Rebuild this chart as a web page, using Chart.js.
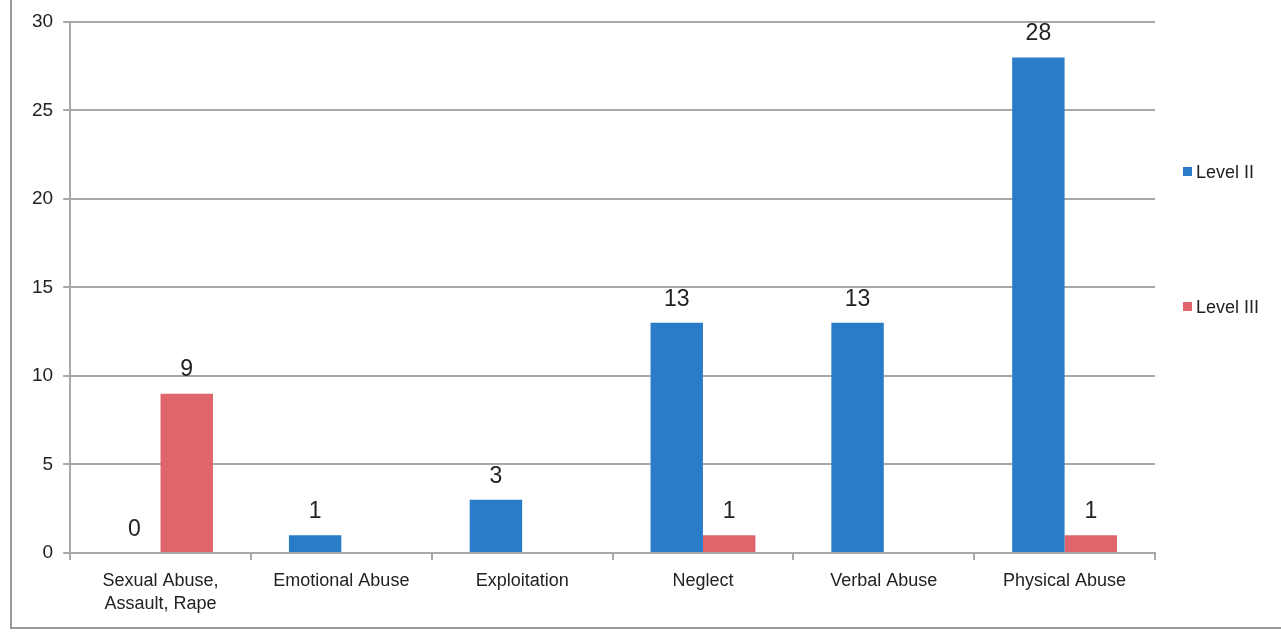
<!DOCTYPE html>
<html>
<head>
<meta charset="utf-8">
<script src="https://cdn.jsdelivr.net/npm/chart.js@4/dist/chart.umd.min.js"></script>
<style>
  html, body { margin: 0; padding: 0; background: #fff; }
  #wrap { position: relative; width: 1281px; height: 635px; overflow: hidden; }
  #frame { position: absolute; left: 10px; top: -4px; width: 1280px; height: 631px;
           border-left: 2px solid #9a9a9a; border-bottom: 2px solid #9a9a9a; }
  canvas { position: absolute; left: 0; top: 0; }
  .legend { position: absolute; font: 18px "Liberation Sans", Arial, sans-serif; color: #222; }
  .legend span { display: inline-block; width: 9px; height: 9px; margin-right: 4px; vertical-align: 2px; }
</style>
</head>
<body>
<div id="wrap">
  <div id="frame"></div>
  <canvas id="chart" width="1281" height="635"></canvas>
  <div class="legend" style="left:1183px; top:162px;"><span style="background:#2b7cc8"></span>Level II</div>
  <div class="legend" style="left:1183px; top:297px;"><span style="background:#e0646b"></span>Level III</div>
</div>
<script>
// Categories and counts
const categories = [["Sexual Abuse,", "Assault, Rape"], "Emotional Abuse", "Exploitation", "Neglect", "Verbal Abuse", "Physical Abuse"];
const levelII = [0, 1, 3, 13, 13, 28];
const levelIII = [9, null, null, 1, null, 1];
const yTicks = [0, 5, 10, 15, 20, 25, 30];

const BLUE = "#2b7cc8";
const RED = "#e0646b";
const GRID = "#a8a8a8";
const TEXT = "#222";
const FONT = "'Liberation Sans', Arial, sans-serif";

// Value labels above each bar
const valueLabels = {
  id: "valueLabels",
  afterDatasetsDraw(chart) {
    const ctx = chart.ctx;
    ctx.save();
    ctx.font = "23px " + FONT;
    ctx.fillStyle = TEXT;
    ctx.textAlign = "center";
    ctx.textBaseline = "bottom";
    chart.data.datasets.forEach((ds, i) => {
      chart.getDatasetMeta(i).data.forEach((bar, j) => {
        const v = ds.data[j];
        if (v === null || v === undefined) return;
        ctx.fillText(String(v), bar.x, bar.y - 12);
      });
    });
    ctx.restore();
  }
};

new Chart(document.getElementById("chart"), {
  type: "bar",
  data: {
    labels: categories,
    datasets: [
      { label: "Level II", data: levelII, backgroundColor: BLUE },
      { label: "Level III", data: levelIII, backgroundColor: RED }
    ]
  },
  options: {
    responsive: false,
    animation: false,
    categoryPercentage: 0.58,
    barPercentage: 1,
    layout: { padding: { left: 22, right: 126, top: 22, bottom: 9 } },
    plugins: { legend: { display: false }, tooltip: { enabled: false } },
    scales: {
      x: {
        border: { color: GRID, width: 2 },
        grid: { drawOnChartArea: false, color: GRID, lineWidth: 2, tickLength: 7 },
        ticks: { color: TEXT, font: { family: FONT, size: 18, lineHeight: 1.28 }, padding: 10, maxRotation: 0 }
      },
      y: {
        min: 0,
        max: 30,
        afterBuildTicks: (axis) => { axis.ticks = yTicks.map((v) => ({ value: v })); },
        border: { color: GRID, width: 2 },
        grid: { color: GRID, lineWidth: 2, tickLength: 7 },
        ticks: { color: TEXT, font: { family: FONT, size: 19 }, padding: 10 }
      }
    }
  },
  plugins: [valueLabels]
});
</script>
</body>
</html>
